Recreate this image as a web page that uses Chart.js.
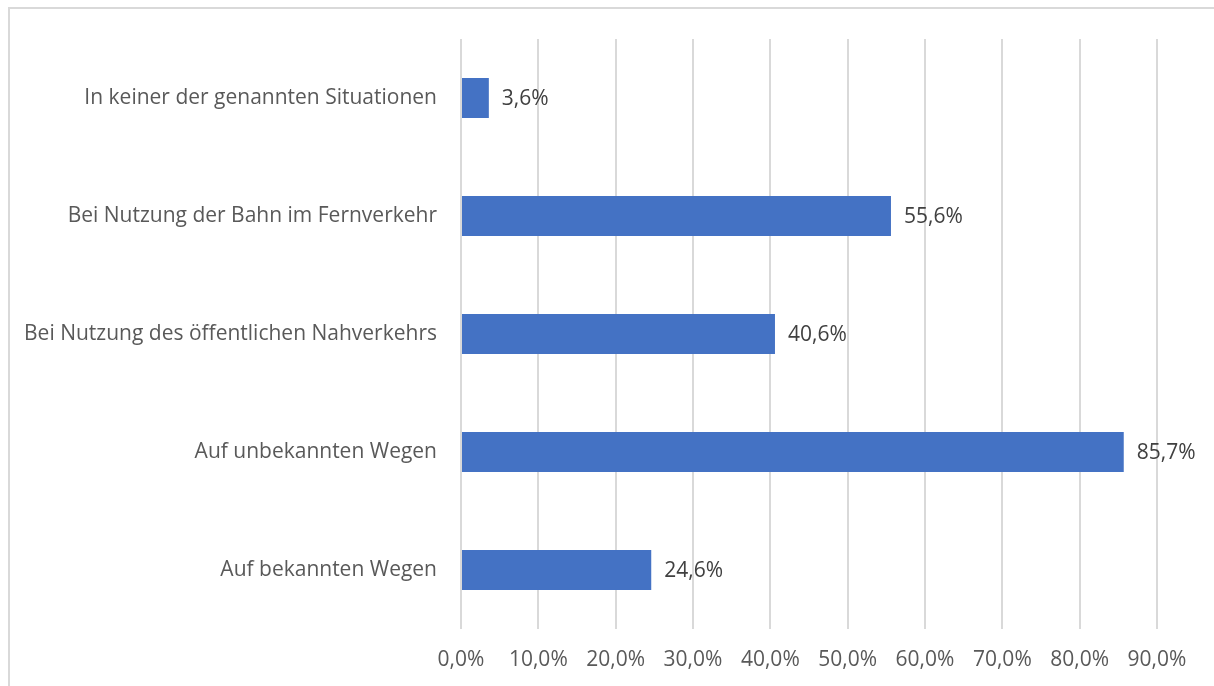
<!DOCTYPE html>
<html>
<head>
<meta charset="utf-8">
<script src="https://cdn.jsdelivr.net/npm/chart.js@4.4.1/dist/chart.umd.min.js"></script>
<style>
    html, body { margin: 0; padding: 0; background: #fff; overflow: hidden; }
    #wrap { position: relative; width: 1214px; height: 686px; }
    #frame { position: absolute; left: 8px; top: 7px; width: 1220px; height: 700px; border: 2px solid #d9d9d9; box-sizing: border-box; }
    canvas { position: absolute; left: 0; top: 0; }
</style>
</head>
<body>
<div id="wrap">
    <div id="frame"></div>
    <canvas id="chart" width="1214" height="686"></canvas>
</div>
<script>
const categories = [
    "In keiner der genannten Situationen",
    "Bei Nutzung der Bahn im Fernverkehr",
    "Bei Nutzung des öffentlichen Nahverkehrs",
    "Auf unbekannten Wegen",
    "Auf bekannten Wegen"
];
const shares = [3.6, 55.6, 40.6, 85.7, 24.6];
const axisMax = 90;
const axisStep = 10;

const fontFamily = "'Open Sans', 'Noto Sans', sans-serif";
const fontSize = 21;

function formatPercent(v) {
    return v.toFixed(1).replace('.', ',') + '%';
}

// value labels right of each bar, like Excel's "outside end"
const valueLabels = {
    id: 'valueLabels',
    afterDatasetsDraw(chart) {
        const ctx = chart.ctx;
        const meta = chart.getDatasetMeta(0);
        ctx.save();
        ctx.font = fontSize + 'px ' + fontFamily;
        ctx.fillStyle = '#404040';
        ctx.textAlign = 'left';
        ctx.textBaseline = 'middle';
        meta.data.forEach(function (bar, i) {
            ctx.fillText(formatPercent(shares[i]), bar.x + 13, bar.y + 1);
        });
        ctx.restore();
    }
};

const chart = new Chart(document.getElementById('chart'), {
    type: 'bar',
    data: {
        labels: categories,
        datasets: [{
            data: shares,
            backgroundColor: '#4472c4',
            borderWidth: 0,
            categoryPercentage: 1,
            barPercentage: 0.34,
        }]
    },
    options: {
        indexAxis: 'y',
        responsive: false,
        animation: false,
        layout: {
            padding: { top: 39, right: 57, bottom: 0, left: 0 }
        },
        plugins: {
            legend: { display: false },
            tooltip: { enabled: false }
        },
        scales: {
            x: {
                min: 0,
                max: axisMax,
                border: { display: false },
                grid: { color: '#d9d9d9', lineWidth: 2, drawTicks: false },
                ticks: {
                    stepSize: axisStep,
                    padding: 18,
                    color: '#595959',
                    font: { family: fontFamily, size: fontSize },
                    callback: function (v) { return formatPercent(v); }
                },
                afterFit: function (scale) { scale.height = 57; }
            },
            y: {
                border: { display: false },
                grid: { display: false, drawTicks: false },
                ticks: {
                    padding: 24,
                    color: '#595959',
                    font: { family: fontFamily, size: fontSize }
                },
                afterFit: function (scale) { scale.width = 461; }
            }
        }
    },
    plugins: [valueLabels]
});
</script>
</body>
</html>
